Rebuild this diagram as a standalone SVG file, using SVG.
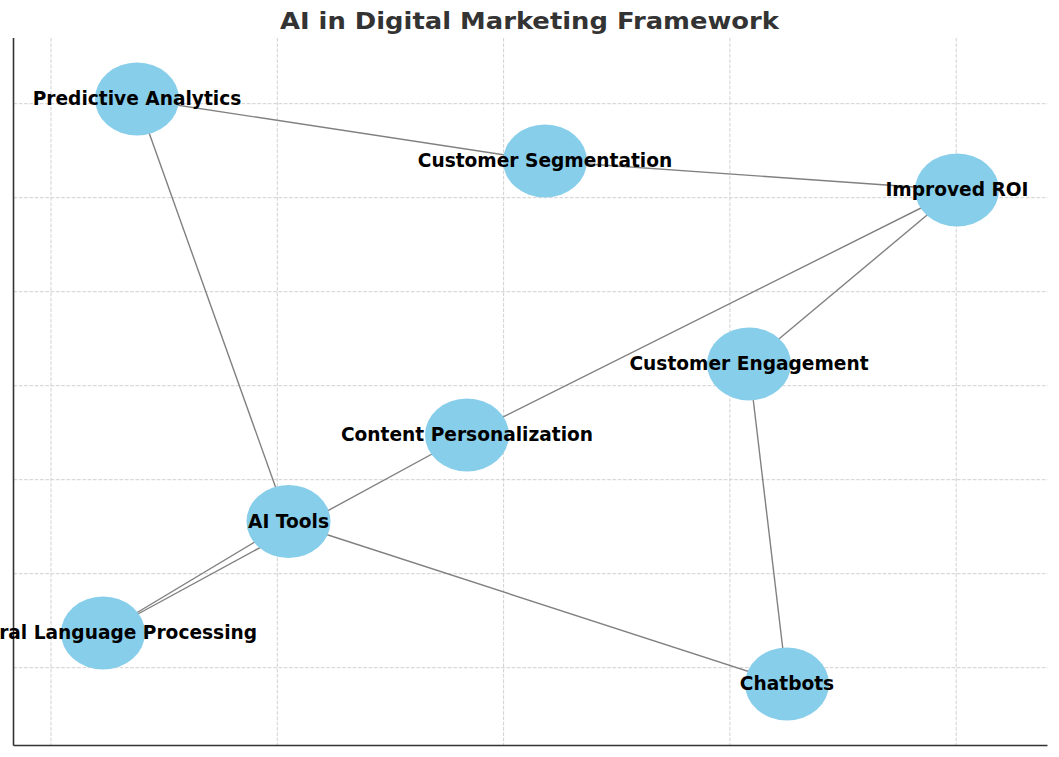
<svg xmlns="http://www.w3.org/2000/svg" width="1059" height="757" viewBox="0 0 1059 757">
<style>
.grid line{stroke:#cccccc;stroke-width:0.9;stroke-dasharray:3.7 1.6}
.spine{stroke:#333333;stroke-width:1.6}
.edges line{stroke:#808080;stroke-width:1.4}
.node ellipse{fill:#87CEEB}
.node text{font-family:"DejaVu Sans","Liberation Sans",sans-serif;font-weight:bold;font-size:18.6px;fill:#000000;text-anchor:middle}
.title{font-family:"DejaVu Sans","Liberation Sans",sans-serif;font-weight:bold;font-size:23.5px;fill:#333333;text-anchor:middle}
</style>
<rect width="1059" height="757" fill="#ffffff"/>
<g class="grid">
<line x1="51" y1="38" x2="51" y2="745.5"/>
<line x1="277.3" y1="38" x2="277.3" y2="745.5"/>
<line x1="503.6" y1="38" x2="503.6" y2="745.5"/>
<line x1="729.9" y1="38" x2="729.9" y2="745.5"/>
<line x1="956.2" y1="38" x2="956.2" y2="745.5"/>
<line x1="13.5" y1="103.7" x2="1047.5" y2="103.7"/>
<line x1="13.5" y1="197.7" x2="1047.5" y2="197.7"/>
<line x1="13.5" y1="291.7" x2="1047.5" y2="291.7"/>
<line x1="13.5" y1="385.7" x2="1047.5" y2="385.7"/>
<line x1="13.5" y1="479.7" x2="1047.5" y2="479.7"/>
<line x1="13.5" y1="573.7" x2="1047.5" y2="573.7"/>
<line x1="13.5" y1="667.7" x2="1047.5" y2="667.7"/>
</g>
<line class="spine" x1="13.5" y1="38" x2="13.5" y2="745.5"/>
<line class="spine" x1="13.5" y1="745.5" x2="1047.5" y2="745.5"/>
<text class="title" x="529.5" y="29" textLength="499" lengthAdjust="spacingAndGlyphs">AI in Digital Marketing Framework</text>
<g class="edges">
<line x1="137" y1="99" x2="545" y2="161"/>
<line x1="545" y1="161" x2="957" y2="190"/>
<line x1="137" y1="99" x2="288" y2="522"/>
<line x1="467" y1="435" x2="957" y2="190"/>
<line x1="957" y1="190" x2="749" y2="364"/>
<line x1="749" y1="364" x2="787" y2="684"/>
<line x1="288" y1="522" x2="787" y2="684"/>
<line x1="103" y1="633" x2="288" y2="522"/>
<line x1="103" y1="633" x2="467" y2="435"/>
</g>
<g id="node-predictive-analytics" class="node"><ellipse cx="137" cy="99" rx="42" ry="36.5"/><text x="137" y="105">Predictive Analytics</text></g>
<g id="node-customer-segmentation" class="node"><ellipse cx="545" cy="161" rx="42" ry="36.5"/><text x="545" y="167">Customer Segmentation</text></g>
<g id="node-improved-roi" class="node"><ellipse cx="957" cy="190" rx="42" ry="36.5"/><text x="957" y="196">Improved ROI</text></g>
<g id="node-customer-engagement" class="node"><ellipse cx="749" cy="364" rx="42" ry="36.5"/><text x="749" y="370">Customer Engagement</text></g>
<g id="node-content-personalization" class="node"><ellipse cx="467" cy="435" rx="42" ry="36.5"/><text x="467" y="441">Content Personalization</text></g>
<g id="node-ai-tools" class="node"><ellipse cx="288.5" cy="521.5" rx="42" ry="36.5"/><text x="288.5" y="527.5">AI Tools</text></g>
<g id="node-nlp" class="node"><ellipse cx="103" cy="633" rx="42" ry="36.5"/><text x="103" y="639">Natural Language Processing</text></g>
<g id="node-chatbots" class="node"><ellipse cx="787" cy="684" rx="42" ry="36.5"/><text x="787" y="690">Chatbots</text></g>
</svg>
